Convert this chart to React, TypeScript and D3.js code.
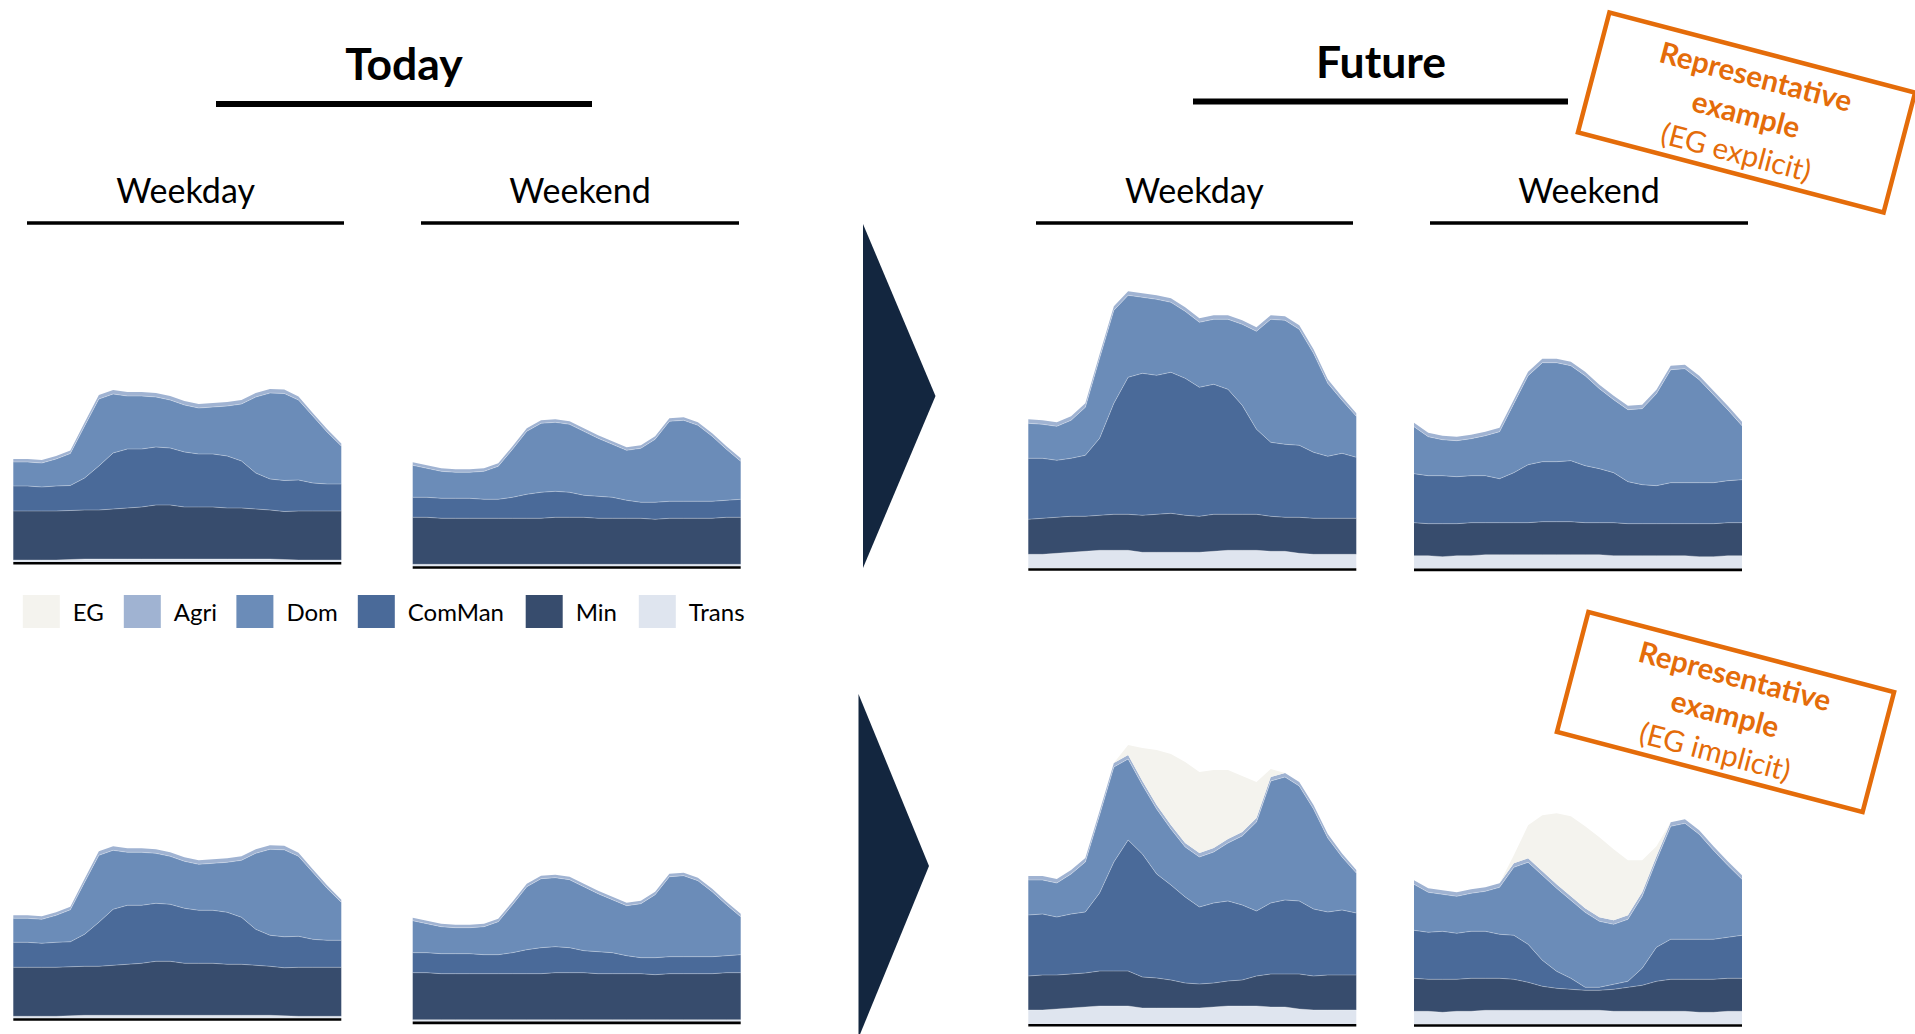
import React from 'react';
import * as d3 from 'd3';

// ---------- categories ----------
const HOURS = [0, 1, 2, 3, 4, 5, 6, 7, 8, 9, 10, 11, 12, 13, 14, 15, 16, 17, 18, 19, 20, 21, 22, 23];
const SERIES_KEYS = ['Trans', 'Min', 'ComMan', 'Dom', 'Agri', 'EG'];
const LEGEND_ITEMS = ['EG', 'Agri', 'Dom', 'ComMan', 'Min', 'Trans'];

// ---------- Today, weekday ----------
const todayWeekdayTrans = [0.2, 0.2, 0.2, 0.2, 0.25, 0.3, 0.3, 0.3, 0.3, 0.3, 0.3, 0.3, 0.3, 0.3, 0.3, 0.3, 0.3, 0.3, 0.3, 0.25, 0.2, 0.2, 0.2, 0.2];
const todayWeekdayMin = [4.9, 4.9, 4.9, 4.9, 4.9, 4.9, 4.9, 5.0, 5.1, 5.2, 5.4, 5.4, 5.2, 5.2, 5.2, 5.1, 5.1, 5.0, 4.9, 4.8, 4.9, 4.9, 4.9, 4.9];
const todayWeekdayComMan = [2.5, 2.5, 2.4, 2.5, 2.5, 3.2, 4.4, 5.6, 5.9, 5.8, 5.8, 5.7, 5.5, 5.3, 5.3, 5.2, 4.7, 3.6, 3.1, 3.1, 3.1, 2.8, 2.7, 2.7];
const todayWeekdayDom = [2.4, 2.4, 2.4, 2.7, 3.2, 5.2, 6.7, 5.9, 5.3, 5.3, 5.0, 4.8, 4.7, 4.6, 4.7, 5.0, 5.7, 7.6, 8.6, 8.7, 8.0, 6.7, 5.2, 3.8];
const todayWeekdayAgri = [0.3, 0.3, 0.3, 0.3, 0.3, 0.35, 0.4, 0.4, 0.4, 0.4, 0.4, 0.4, 0.4, 0.4, 0.4, 0.4, 0.4, 0.4, 0.4, 0.4, 0.35, 0.3, 0.3, 0.25];

// ---------- Today, weekend ----------
const todayWeekendTrans = [0.2, 0.2, 0.2, 0.2, 0.2, 0.2, 0.2, 0.2, 0.2, 0.2, 0.2, 0.2, 0.2, 0.2, 0.2, 0.2, 0.2, 0.2, 0.2, 0.2, 0.2, 0.2, 0.2, 0.2];
const todayWeekendMin = [4.7, 4.7, 4.6, 4.6, 4.6, 4.6, 4.6, 4.6, 4.6, 4.6, 4.7, 4.7, 4.7, 4.6, 4.6, 4.6, 4.6, 4.5, 4.6, 4.6, 4.6, 4.6, 4.7, 4.7];
const todayWeekendComMan = [2.0, 2.0, 2.0, 2.0, 2.0, 1.9, 1.9, 2.1, 2.4, 2.6, 2.6, 2.5, 2.2, 2.2, 2.1, 1.8, 1.6, 1.7, 1.7, 1.7, 1.7, 1.7, 1.7, 1.8];
const todayWeekendDom = [3.2, 2.9, 2.7, 2.6, 2.6, 2.8, 3.3, 4.8, 6.3, 6.9, 6.9, 6.8, 6.4, 5.8, 5.3, 5.0, 5.4, 6.3, 8.0, 8.1, 7.6, 6.5, 5.1, 3.8];
const todayWeekendAgri = [0.3, 0.3, 0.3, 0.3, 0.3, 0.3, 0.3, 0.3, 0.3, 0.3, 0.3, 0.3, 0.3, 0.3, 0.3, 0.3, 0.3, 0.3, 0.3, 0.3, 0.3, 0.3, 0.3, 0.3];

// ---------- Future (EG explicit), weekday ----------
const futureWeekdayTrans = [1.4, 1.4, 1.5, 1.6, 1.7, 1.8, 1.8, 1.8, 1.6, 1.6, 1.6, 1.6, 1.6, 1.7, 1.8, 1.8, 1.8, 1.7, 1.7, 1.5, 1.4, 1.4, 1.4, 1.4];
const explicitWeekdayMin = [3.5, 3.6, 3.6, 3.6, 3.5, 3.5, 3.6, 3.6, 3.7, 3.8, 3.9, 3.7, 3.6, 3.7, 3.6, 3.6, 3.6, 3.5, 3.4, 3.6, 3.6, 3.6, 3.6, 3.6];
const explicitWeekdayComMan = [6.1, 6.0, 5.7, 5.8, 6.1, 7.7, 11.1, 13.7, 14.2, 13.9, 14.1, 13.7, 12.9, 13.0, 12.5, 10.9, 8.5, 7.4, 7.3, 7.2, 6.6, 6.2, 6.5, 6.1];
const explicitWeekdayDom = [3.5, 3.4, 3.4, 3.8, 4.8, 8.0, 9.3, 8.2, 7.6, 7.6, 7.0, 6.7, 6.5, 6.5, 7.0, 8.1, 9.8, 12.3, 12.4, 11.6, 9.9, 7.3, 5.3, 4.1];
const futureWeekdayAgri = [0.4, 0.4, 0.4, 0.4, 0.4, 0.4, 0.4, 0.4, 0.4, 0.4, 0.4, 0.4, 0.4, 0.4, 0.4, 0.4, 0.4, 0.4, 0.4, 0.4, 0.4, 0.4, 0.35, 0.3];

// ---------- Future (EG explicit), weekend ----------
const futureWeekendTrans = [1.3, 1.3, 1.2, 1.3, 1.3, 1.4, 1.4, 1.4, 1.4, 1.4, 1.4, 1.4, 1.4, 1.4, 1.3, 1.3, 1.3, 1.3, 1.3, 1.3, 1.2, 1.2, 1.3, 1.3];
const explicitWeekendMin = [3.3, 3.2, 3.3, 3.2, 3.3, 3.2, 3.2, 3.2, 3.2, 3.3, 3.3, 3.3, 3.2, 3.2, 3.3, 3.2, 3.2, 3.2, 3.2, 3.2, 3.3, 3.3, 3.3, 3.3];
const explicitWeekendComMan = [4.9, 4.8, 4.8, 4.7, 4.7, 4.7, 4.4, 5.0, 5.8, 6.0, 6.0, 6.1, 5.7, 5.4, 5.0, 4.2, 3.9, 3.8, 4.1, 4.1, 4.1, 4.1, 4.2, 4.3];
const explicitWeekendDom = [4.7, 3.9, 3.6, 3.6, 3.7, 4.0, 4.7, 6.9, 8.9, 9.9, 9.9, 9.5, 9.0, 8.0, 7.3, 7.2, 7.6, 9.2, 11.3, 11.4, 10.3, 8.8, 7.1, 5.4];
const futureWeekendAgri = [0.4, 0.4, 0.4, 0.4, 0.4, 0.4, 0.4, 0.4, 0.4, 0.4, 0.4, 0.4, 0.4, 0.4, 0.4, 0.4, 0.4, 0.4, 0.4, 0.4, 0.4, 0.4, 0.4, 0.4];

// ---------- Future (EG implicit), weekday ----------
const implicitWeekdayMin = [3.4, 3.5, 3.4, 3.4, 3.4, 3.5, 3.5, 3.5, 3.1, 3.0, 2.8, 2.5, 2.4, 2.4, 2.5, 2.6, 3.0, 3.3, 3.3, 3.5, 3.4, 3.5, 3.5, 3.5];
const implicitWeekdayComMan = [6.1, 6.1, 5.8, 6.0, 6.1, 7.8, 10.9, 13.1, 12.3, 10.4, 9.5, 8.6, 7.7, 8.0, 8.0, 7.5, 6.5, 7.1, 7.4, 7.3, 6.7, 6.3, 6.5, 6.2];
const implicitWeekdayDom = [3.5, 3.4, 3.4, 4.0, 5.0, 7.8, 9.5, 8.1, 6.9, 6.5, 5.6, 5.0, 5.0, 5.1, 5.8, 6.9, 8.9, 12.2, 12.3, 11.5, 10.0, 7.4, 5.3, 4.0];
const implicitWeekdayEG = [0, 0, 0, 0, 0, 0, 0, 1.0, 3.3, 5.5, 7.1, 8.1, 8.1, 7.8, 6.9, 5.6, 3.6, 0.8, 0, 0, 0, 0, 0, 0];

// ---------- Future (EG implicit), weekend ----------
const implicitWeekendMin = [3.3, 3.2, 3.3, 3.2, 3.3, 3.2, 3.2, 3.1, 2.8, 2.4, 2.2, 2.1, 2.0, 2.0, 2.2, 2.4, 2.6, 3.0, 3.2, 3.2, 3.3, 3.3, 3.3, 3.3];
const implicitWeekendComMan = [4.8, 4.7, 4.8, 4.6, 4.7, 4.7, 4.4, 4.4, 3.8, 2.6, 1.7, 1.1, 0.3, 0.3, 0.5, 0.6, 1.7, 3.4, 4.0, 4.0, 4.0, 4.0, 4.1, 4.3];
const implicitWeekendDom = [4.6, 4.0, 3.7, 3.7, 3.8, 4.0, 4.7, 6.8, 8.2, 8.5, 8.3, 7.8, 7.5, 6.6, 6.0, 6.2, 7.2, 8.7, 11.3, 11.6, 10.5, 8.9, 7.2, 5.6];
const implicitWeekendEG = [0, 0, 0, 0, 0, 0, 0, 0.8, 3.3, 5.6, 7.1, 8.0, 8.2, 8.0, 7.1, 5.5, 3.2, 1.0, 0, 0, 0, 0, 0, 0];

const NO_EG = [0, 0, 0, 0, 0, 0, 0, 0, 0, 0, 0, 0, 0, 0, 0, 0, 0, 0, 0, 0, 0, 0, 0, 0];

// ---------- titles ----------
const MAIN_TITLES = ['Today', 'Future'];
const DAY_TITLES = ['Weekday', 'Weekend'];
const STAMP_LINES_TOP = ['Representative', 'example', '(EG explicit)'];
const STAMP_LINES_BOTTOM = ['Representative', 'example', '(EG implicit)'];

const COLORS: Record<string, string> = {
  EG: '#F4F3EE',
  Agri: '#A0B3D2',
  Dom: '#6B8CB8',
  ComMan: '#4A6A99',
  Min: '#374C6D',
  Trans: '#DFE5EF',
};
const ORANGE = '#E46C0A';
const NAVY = '#13263F';
const FONT = 'Lato, "Open Sans", sans-serif';

type Row = { [k: string]: number };

function makeRows(s: { [k: string]: number[] }): Row[] {
  return HOURS.map((h, i) => {
    const r: Row = { hour: h };
    SERIES_KEYS.forEach((k) => {
      r[k] = s[k][i];
    });
    return r;
  });
}

const todayWeekdayRows = makeRows({ Trans: todayWeekdayTrans, Min: todayWeekdayMin, ComMan: todayWeekdayComMan, Dom: todayWeekdayDom, Agri: todayWeekdayAgri, EG: NO_EG });
const todayWeekendRows = makeRows({ Trans: todayWeekendTrans, Min: todayWeekendMin, ComMan: todayWeekendComMan, Dom: todayWeekendDom, Agri: todayWeekendAgri, EG: NO_EG });
const explicitWeekdayRows = makeRows({ Trans: futureWeekdayTrans, Min: explicitWeekdayMin, ComMan: explicitWeekdayComMan, Dom: explicitWeekdayDom, Agri: futureWeekdayAgri, EG: NO_EG });
const explicitWeekendRows = makeRows({ Trans: futureWeekendTrans, Min: explicitWeekendMin, ComMan: explicitWeekendComMan, Dom: explicitWeekendDom, Agri: futureWeekendAgri, EG: NO_EG });
const implicitWeekdayRows = makeRows({ Trans: futureWeekdayTrans, Min: implicitWeekdayMin, ComMan: implicitWeekdayComMan, Dom: implicitWeekdayDom, Agri: futureWeekdayAgri, EG: implicitWeekdayEG });
const implicitWeekendRows = makeRows({ Trans: futureWeekendTrans, Min: implicitWeekendMin, ComMan: implicitWeekendComMan, Dom: implicitWeekendDom, Agri: futureWeekendAgri, EG: implicitWeekendEG });

const PANEL_W = 328;
const PANEL_H = 300;
const Y_MAX = 30;

function StackPanel({ rows, x, base }: { rows: Row[]; x: number; base: number }) {
  const xs = d3.scaleLinear().domain([0, HOURS.length - 1]).range([0, PANEL_W]);
  const ys = d3.scaleLinear().domain([0, Y_MAX]).range([PANEL_H, 0]);
  const series = d3.stack<Row>().keys(SERIES_KEYS)(rows);
  const area = d3
    .area<any>()
    .x((_d, i) => xs(i))
    .y0((d) => ys(d[0]))
    .y1((d) => ys(d[1]));
  const line = d3
    .line<any>()
    .x((_d, i) => xs(i))
    .y((d) => ys(d[1]));
  return (
    <g transform={`translate(${x},${base - PANEL_H})`}>
      {series.map((s) => (
        <path key={s.key} d={area(s) || ''} fill={COLORS[s.key]} />
      ))}
      {series
        .filter((s) => ['Trans', 'Min', 'ComMan', 'Dom'].includes(s.key))
        .map((s) => (
          <path key={'l' + s.key} d={line(s) || ''} fill="none" stroke="#ffffff" strokeOpacity={0.3} strokeWidth={1} />
        ))}
      <line x1={0} x2={PANEL_W} y1={PANEL_H + 1.2} y2={PANEL_H + 1.2} stroke="#000" strokeWidth={2.6} />
    </g>
  );
}

function Stamp({ cx, cy, lines }: { cx: number; cy: number; lines: string[] }) {
  return (
    <g transform={`translate(${cx},${cy}) rotate(14.7)`}>
      <rect x={-158} y={-62} width={316} height={124} fill="none" stroke={ORANGE} strokeWidth={4.5} />
      {lines.map((t, i) => (
        <text
          key={i}
          x={0}
          y={-38 + i * 39}
          textAnchor="middle"
          dominantBaseline="central"
          fill={ORANGE}
          fontFamily={FONT}
          fontWeight={i < 2 ? 700 : 400}
          fontSize={29.5}
        >
          {t}
        </text>
      ))}
    </g>
  );
}

export default function App() {
  const panels = [
    { rows: todayWeekdayRows, x: 13.3, base: 562 },
    { rows: todayWeekendRows, x: 412.7, base: 566.3 },
    { rows: explicitWeekdayRows, x: 1028.3, base: 568.3 },
    { rows: explicitWeekendRows, x: 1414, base: 568.7 },
    { rows: todayWeekdayRows, x: 13.3, base: 1018.3 },
    { rows: todayWeekendRows, x: 412.7, base: 1021.7 },
    { rows: implicitWeekdayRows, x: 1028.3, base: 1024 },
    { rows: implicitWeekendRows, x: 1414, base: 1024.3 },
  ];
  const mainTitlePos = [
    { cx: 404, y: 80, x1: 216, x2: 592, ly: 104 },
    { cx: 1381, y: 78, x1: 1193, x2: 1568, ly: 101.5 },
  ];
  const dayTitlePos = [
    { cx: 185.6, x1: 27, x2: 344, t: 0 },
    { cx: 580, x1: 421, x2: 739, t: 1 },
    { cx: 1194.4, x1: 1036, x2: 1353, t: 0 },
    { cx: 1589, x1: 1430, x2: 1748, t: 1 },
  ];
  const legendX = [22.8, 123.8, 236.4, 357.8, 525.7, 638.8];

  return (
    <svg width={1915} height={1034} style={{ position: 'absolute', left: 0, top: 0, background: '#fff' }} fontFamily={FONT}>
      <rect x={0} y={0} width={1915} height={1034} fill="#fff" />
      {MAIN_TITLES.map((t, i) => (
        <g key={t}>
          <text x={mainTitlePos[i].cx} y={mainTitlePos[i].y} textAnchor="middle" fontWeight={700} fontSize={44.5} fill="#000">
            {t}
          </text>
          <line x1={mainTitlePos[i].x1} x2={mainTitlePos[i].x2} y1={mainTitlePos[i].ly} y2={mainTitlePos[i].ly} stroke="#000" strokeWidth={6} />
        </g>
      ))}
      {dayTitlePos.map((p, i) => (
        <g key={i}>
          <text x={p.cx} y={203} textAnchor="middle" fontSize={34} fill="#000">
            {DAY_TITLES[p.t]}
          </text>
          <line x1={p.x1} x2={p.x2} y1={223} y2={223} stroke="#000" strokeWidth={3.5} />
        </g>
      ))}
      {panels.map((p, i) => (
        <StackPanel key={i} rows={p.rows} x={p.x} base={p.base} />
      ))}
      {LEGEND_ITEMS.map((k, i) => (
        <g key={k}>
          <rect x={legendX[i]} y={595} width={37} height={33} fill={COLORS[k]} />
          <text x={legendX[i] + 50} y={621} fontSize={24} fill="#000">
            {k}
          </text>
        </g>
      ))}
      <polygon points="863,224 935.5,396 863,568" fill={NAVY} />
      <polygon points="858.5,694 929,866 858.5,1038" fill={NAVY} />
      <Stamp cx={1746.5} cy={112.5} lines={STAMP_LINES_TOP} />
      <Stamp cx={1725.5} cy={712} lines={STAMP_LINES_BOTTOM} />
    </svg>
  );
}
